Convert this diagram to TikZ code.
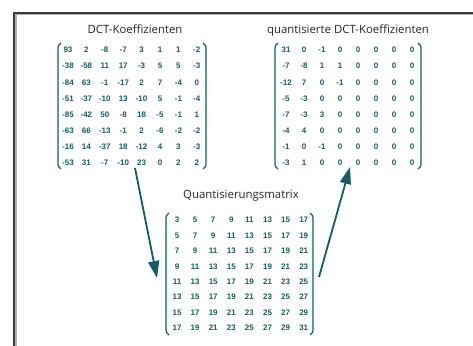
\documentclass[tikz,border=0pt]{standalone}
\usepackage{fontspec}
\setmainfont{Open Sans}
\newfontfamily\numfont{Liberation Sans}
\usetikzlibrary{arrows.meta}
\definecolor{teal1}{RGB}{22,92,98}
\definecolor{frameg}{RGB}{60,60,60}
\tikzset{
  num/.style={text=teal1, font=\numfont\bfseries\fontsize{8}{9}\selectfont, inner sep=0pt, anchor=center},
  ttl/.style={text=black!85, font=\fontsize{11.4}{13}\selectfont, inner sep=0pt, anchor=center},
  brk/.style={draw=teal1, line width=1.2pt},
  arr/.style={draw=teal1, line width=1.8pt, -{Triangle[length=17pt,width=11pt]}, shorten >=0pt},
}
\newcommand{\lparen}[3]{\draw[brk] (#1+3,#2) .. controls (#1,#2+2) .. (#1,#2+9) -- (#1,#3-9) .. controls (#1,#3-2) .. (#1+3,#3);}
\newcommand{\rparen}[3]{\draw[brk] (#1-3,#2) .. controls (#1,#2+2) .. (#1,#2+9) -- (#1,#3-9) .. controls (#1,#3-2) .. (#1-3,#3);}
\begin{document}
\begin{tikzpicture}[x=1pt,y=-1pt]
\useasboundingbox (0,0) rectangle (473,345);
% frame
\draw[black!30, line width=3pt] (15,346) -- (15,14) -- (474,14);
\draw[frameg, line width=1.4pt] (14,346) -- (14,13) -- (474,13);
% titles
\node[ttl] (t1) at (135,29) {DCT-Koeffizienten};
\node[ttl] (t2) at (348,31) {quantisierte DCT-Koeffizienten};
\node[ttl] (t3) at (241,196) {Quantisierungsmatrix};
% left matrix
\foreach \row [count=\r] in {{93,2,-8,-7,3,1,1,-2},{-38,-58,11,17,-3,5,5,-3},{-84,63,-1,-17,2,7,-4,0},{-51,-37,-10,13,-10,5,-1,-4},{-85,-42,50,-8,18,-5,-1,1},{-63,66,-13,-1,2,-6,-2,-2},{-16,14,-37,18,-12,4,3,-3},{-53,31,-7,-10,23,0,2,2}}{
  \foreach \v [count=\c] in \row {
    \node[num] (L-\r-\c) at ({68+(\c-1)*18.4},{50+(\r-1)*16.14}) {\v};
  }
}
\lparen{58}{43}{169}
\rparen{206}{43}{169}
% right matrix
\foreach \row [count=\r] in {{31,0,-1,0,0,0,0,0},{-7,-8,1,1,0,0,0,0},{-12,7,0,-1,0,0,0,0},{-5,-3,0,0,0,0,0,0},{-7,-3,3,0,0,0,0,0},{-4,4,0,0,0,0,0,0},{-1,0,-1,0,0,0,0,0},{-3,1,0,0,0,0,0,0}}{
  \foreach \v [count=\c] in \row {
    \node[num] (R-\r-\c) at ({286+(\c-1)*18.0},{50+(\r-1)*16.14}) {\v};
  }
}
\lparen{275}{43}{169}
\rparen{421}{43}{169}
% quantisation matrix
\foreach \r in {1,...,8}{
  \foreach \c in {1,...,8}{
    \pgfmathtruncatemacro{\q}{2*(\r+\c)-1}
    \node[num] (Q-\r-\c) at ({177+(\c-1)*18.1},{220+(\r-1)*15.43}) {\q};
  }
}
\lparen{166}{213}{335}
\rparen{313}{213}{335}
% arrows
\coordinate (a1s) at (135,168);
\coordinate (a1e) at (157,278);
\coordinate (a2s) at (319,277);
\coordinate (a2e) at (350,167);
\draw[arr] (a1s) -- (a1e);
\draw[arr] (a2s) -- (a2e);
\end{tikzpicture}
\end{document}
